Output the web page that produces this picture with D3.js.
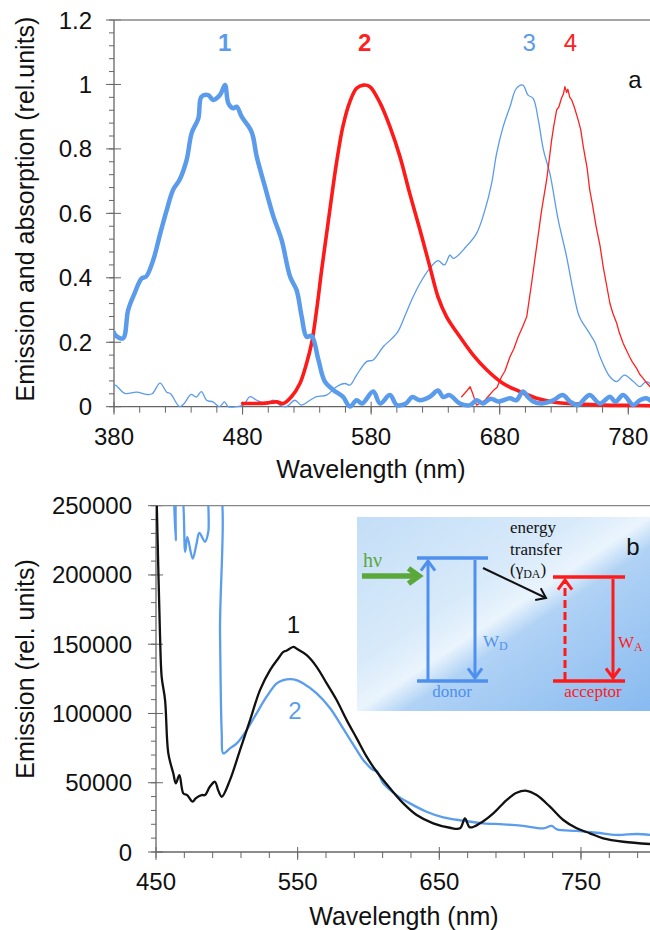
<!DOCTYPE html>
<html>
<head>
<meta charset="utf-8">
<script src="https://d3js.org/d3.v7.min.js"></script>
<style>
  body { margin: 0; background: #fff; }
  svg { display: block; }
</style>
</head>
<body>
<script>
// ---- panel a: wavelength (nm), relative units ----
const aXTicks = [380, 480, 580, 680, 780];
const aYTicks = [0, 0.2, 0.4, 0.6, 0.8, 1, 1.2];

// 1: donor emission (thick blue)
const aCurve1 = [[380,0.23],[381,0.222],[387,0.212],[391,0.30],[396,0.352],[401.5,0.398],[405,0.404],[410.5,0.455],[416,0.538],[421,0.61],[426,0.673],[431,0.704],[436.5,0.766],[440.4,0.849],[445.6,0.895],[448,0.962],[453.3,0.967],[457,0.952],[462.4,0.967],[466.3,0.998],[469,0.941],[472.8,0.926],[475.4,0.931],[479.3,0.90],[487,0.853],[491,0.776],[497.4,0.683],[504,0.59],[510.4,0.517],[517,0.403],[522,0.362],[526,0.279],[529.8,0.217],[533.7,0.22],[539,0.145],[544,0.078],[550.5,0.052],[558,0.031],[563.5,0.0],[568.7,0.02],[573,0.01],[581.6,0.047],[587,0.01],[594.6,0.036],[600,0.005],[607,0.01],[612,0.03],[618,0.02],[625.7,0.031],[632,0.05],[636,0.03],[641,0.036],[649,0.01],[657,0.005],[662,0.02],[667,0.01],[673,0.025],[679,0.016],[688,0.026],[693,0.02],[698,0.047],[702,0.03],[706,0.016],[713,0.01],[721.6,0.02],[729,0.036],[735,0.015],[741,0.005],[745,0.02],[750,0.036],[758,0.01],[765.7,0.031],[770,0.015],[776,0.036],[784,0.005],[789,0.02],[794,0.026],[800,0.01]];

// 2: acceptor absorption (thick red)
const aCurve2 = [[480,0.01],[490,0.01],[500,0.012],[506.5,0.015],[511.6,0.01],[518,0.031],[524.6,0.072],[529.8,0.135],[533.7,0.197],[537.6,0.30],[541.5,0.424],[545.4,0.538],[549.3,0.652],[553,0.755],[558,0.869],[563.5,0.947],[568.7,0.988],[574,0.998],[579,0.993],[587,0.942],[594.6,0.869],[602.4,0.776],[610,0.662],[618,0.548],[625.7,0.434],[632,0.341],[638.7,0.279],[649,0.217],[659.4,0.16],[670,0.114],[682.7,0.072],[695.7,0.047],[708.7,0.026],[725.5,0.012],[741,0.008],[761,0.005],[780,0.004],[800,0.003]];

// 3: thin blue
const aCurve3 = [[380,0.06],[381,0.067],[388.5,0.041],[397.6,0.045],[405.4,0.038],[409.7,0.04],[415.8,0.073],[421,0.045],[424,0.04],[431,0],[434.6,0.01],[440,0.038],[444,0.03],[448,0.047],[452,0.02],[457,0.015],[462,0],[466,0.015],[468.7,0],[475,0],[480.6,0.005],[485.8,0.031],[491,0.02],[498,0.01],[504,0.02],[509,0.005],[514,0],[520.7,0.02],[525.7,0.005],[532.4,0.02],[537.6,0.031],[545.4,0.036],[553,0.062],[559.6,0.072],[563.5,0.067],[568.7,0.098],[576.5,0.14],[581.6,0.145],[589.4,0.186],[600,0.228],[606,0.279],[611.5,0.331],[618,0.383],[625.7,0.43],[632,0.453],[637,0.44],[641.3,0.47],[644,0.46],[654,0.497],[662,0.538],[668.5,0.61],[673.7,0.693],[677.6,0.786],[682.7,0.869],[688,0.931],[693,0.988],[698,0.998],[702,0.967],[706,0.957],[710,0.89],[714,0.797],[719,0.724],[725.5,0.58],[732,0.466],[737,0.362],[742,0.279],[749,0.233],[754,0.2],[758,0.155],[765.7,0.093],[771,0.078],[777,0.098],[784,0.078],[789,0.062],[794,0.078],[800,0.06]];

// 4: thin red
const aCurve4 = [[650.4,0.031],[654,0.047],[657,0.062],[659.4,0.036],[662,0.005],[668.5,0.02],[675,0.05],[678,0.06],[681.4,0.093],[684,0.11],[688,0.155],[691,0.18],[694.4,0.217],[698,0.25],[701,0.279],[704.8,0.383],[708.7,0.497],[712.6,0.61],[716.5,0.704],[718,0.75],[720.4,0.828],[722,0.87],[724.3,0.921],[726,0.93],[728,0.957],[729.5,0.97],[730.7,0.993],[732,0.975],[733,0.985],[734.5,0.96],[736,0.952],[738,0.93],[741,0.89],[743,0.86],[745,0.807],[748,0.74],[750,0.673],[752,0.63],[755,0.559],[758,0.5],[760.5,0.434],[763,0.38],[765.7,0.321],[768,0.29],[771,0.259],[773,0.23],[776,0.197],[778,0.18],[781,0.155],[783,0.14],[786.5,0.119],[789,0.1],[791.6,0.088],[794,0.075],[797,0.062],[800,0.055]];

const aLabels = [
  { text: "1", nm: 466, v: 1.105, color: "#5b9bec", bold: true },
  { text: "2", nm: 575, v: 1.105, color: "#ff2020", bold: true },
  { text: "3", nm: 703, v: 1.105, color: "#5b9bec", bold: false },
  { text: "4", nm: 735, v: 1.105, color: "#ff2020", bold: false }
];

// ---- panel b: emission ----
const bXTicks = [450, 550, 650, 750];
const bYTicks = [0, 50000, 100000, 150000, 200000, 250000];

// 1 (black)
const bCurve1 = [[450.3,262000],[451.6,205800],[452.8,158000],[454,126500],[456.4,109700],[458.7,71200],[462.2,56800],[464,49600],[466.5,55500],[469.3,42300],[472,41000],[475.9,36300],[478,38700],[482.2,41100],[484.6,41100],[488,47100],[491.6,50700],[494,44300],[496.4,39900],[502.2,51900],[509.3,73600],[516.4,95200],[523.4,116900],[530.5,131300],[536.3,139700],[539.9,144500],[542,145300],[547,148100],[549.4,146700],[556.4,142100],[563.4,133700],[570.5,121700],[577.5,109700],[584.6,95200],[591.7,82000],[598.7,68800],[605.8,57900],[615.2,46000],[624.6,35100],[634,26700],[645.7,20700],[657.5,17500],[664.6,17100],[668.1,24300],[671.6,17800],[678.7,20700],[688.1,27900],[697.5,37500],[704.6,42800],[711.7,44200],[718.7,41100],[728.1,32700],[737.5,23100],[747,17100],[756.3,13500],[765.7,9900],[779.9,7400],[800,5700]];

// 2 (blue)
const bCurve2 = [[462.5,265000],[463.9,225000],[465.3,265000],[467.5,265000],[470.6,216700],[472.1,227500],[475.9,211900],[478.5,222000],[480.6,230300],[484.6,223900],[486.9,231100],[488.6,265000],[494,265000],[495.2,158000],[496.4,85900],[497.5,71200],[502.2,74800],[507,78400],[514,88000],[521,100100],[528.1,112100],[535.2,121700],[539.9,124100],[547,124600],[554,121700],[563.4,114500],[572.8,104000],[582.2,89000],[591.7,73600],[596.3,66400],[603.4,59200],[605.8,58500],[610.4,49600],[619.8,41100],[629.3,35100],[641,29100],[652.8,25000],[666.9,22600],[681,20700],[695.2,20000],[709.3,18800],[723.4,17100],[729.3,18800],[733,16300],[747,15200],[761,13900],[775.2,12300],[789.3,13000],[800,12300]];

const bLabels = [
  { text: "1", nm: 547, v: 158000, color: "#111" },
  { text: "2", nm: 548, v: 96000, color: "#5a9ded" }
];

const W = 650, H = 930;
const FONT = "'Liberation Sans', Arial, Helvetica, sans-serif";
const SERIF = "'Liberation Serif', 'Times New Roman', serif";

const svg = d3.select("body").append("svg")
  .attr("width", W).attr("height", H)
  .attr("font-family", FONT);

function drawPanel(p) {
  const x = d3.scaleLinear().domain(p.xDomain).range(p.xRange);
  const y = d3.scaleLinear().domain(p.yDomain).range(p.yRange);
  const g = svg.append("g");
  const x0 = p.xRange[0], y0 = p.yRange[0], yTop = p.yRange[1];
  const axisColor = "#666";

  // clip
  const clipId = "clip-" + p.id;
  svg.append("clipPath").attr("id", clipId).append("rect")
    .attr("x", x0).attr("y", yTop).attr("width", W - x0).attr("height", y0 - yTop + 2);

  // minor ticks
  const [ymin, ymax] = p.yDomain;
  d3.range(ymin, ymax + p.yMinor / 2, p.yMinor).forEach(v => {
    g.append("line").attr("x1", x0 - 5).attr("x2", x0)
      .attr("y1", y(v)).attr("y2", y(v)).attr("stroke", axisColor).attr("stroke-width", 1);
  });
  d3.range(p.xDomain[0], p.xDomain[1], p.xMinor).forEach(v => {
    g.append("line").attr("x1", x(v)).attr("x2", x(v))
      .attr("y1", y0).attr("y2", y0 + 6).attr("stroke", axisColor).attr("stroke-width", 1);
  });
  // major ticks + labels
  p.yTicks.forEach(v => {
    g.append("line").attr("x1", x0 - 8).attr("x2", x0 + 7)
      .attr("y1", y(v)).attr("y2", y(v)).attr("stroke", axisColor).attr("stroke-width", 1);
    g.append("text").attr("x", p.yLabelX).attr("y", y(v) + 8.5)
      .attr("text-anchor", "end").attr("font-size", 24).attr("fill", "#111")
      .text(p.yFmt(v));
  });
  p.xTicks.forEach(v => {
    g.append("line").attr("x1", x(v)).attr("x2", x(v))
      .attr("y1", y0 - 5).attr("y2", y0 + 8).attr("stroke", axisColor).attr("stroke-width", 1);
    g.append("text").attr("x", x(v)).attr("y", p.xLabelY)
      .attr("text-anchor", "middle").attr("font-size", 24).attr("fill", "#111")
      .text(v);
  });

  // axis lines
  g.append("line").attr("x1", x0).attr("x2", x0).attr("y1", yTop).attr("y2", y0)
    .attr("stroke", axisColor).attr("stroke-width", 1.3);
  g.append("line").attr("x1", x0).attr("x2", W).attr("y1", y0).attr("y2", y0)
    .attr("stroke", axisColor).attr("stroke-width", 1.3);
  g.append("line").attr("x1", x0).attr("x2", W).attr("y1", yTop).attr("y2", yTop)
    .attr("stroke", "#888").attr("stroke-width", 1.3);

  // titles
  g.append("text").attr("x", p.xTitleX).attr("y", p.xTitleY)
    .attr("text-anchor", "middle").attr("font-size", 25).attr("fill", "#111")
    .text("Wavelength (nm)");
  g.append("text")
    .attr("transform", `translate(${p.yTitleX},${p.yTitleY}) rotate(-90)`)
    .attr("text-anchor", "middle").attr("font-size", 25).attr("fill", "#111")
    .text(p.yTitle);

  // series
  const lines = g.append("g").attr("clip-path", `url(#${clipId})`);
  p.series.forEach(s => {
    const line = d3.line().x(d => x(d[0])).y(d => y(d[1]))
      .curve(s.smooth ? d3.curveCatmullRom.alpha(0.5) : d3.curveLinear);
    lines.append("path").datum(s.data)
      .attr("fill", "none").attr("stroke", s.color).attr("stroke-width", s.width)
      .attr("stroke-linejoin", "round").attr("stroke-linecap", "round")
      .attr("d", line);
  });

  // curve labels
  p.labels.forEach(l => {
    g.append("text").attr("x", x(l.nm)).attr("y", y(l.v))
      .attr("text-anchor", "middle").attr("font-size", 24)
      .attr("font-weight", l.bold ? "bold" : "normal")
      .attr("fill", l.color).text(l.text);
  });
  return { x, y, g };
}

const pa = drawPanel({
  id: "a",
  xDomain: [380, 800], xRange: [114, 654],
  yDomain: [0, 1.2], yRange: [406.7, 20],
  xTicks: aXTicks, yTicks: aYTicks, xMinor: 20, yMinor: 0.04,
  yFmt: d3.format("~g"), yLabelX: 92, xLabelY: 445,
  xTitleX: 371, xTitleY: 478,
  yTitle: "Emission and absorption (rel.units)", yTitleX: 34, yTitleY: 209,
  series: [
    { data: aCurve3, color: "#5b9bec", width: 1.3, smooth: true },
    { data: aCurve4, color: "#ff2020", width: 1.3, smooth: false },
    { data: aCurve2, color: "#ff1a1a", width: 3.6, smooth: true },
    { data: aCurve1, color: "#5b9bec", width: 4.5, smooth: true }
  ],
  labels: aLabels
});
pa.g.append("text").attr("x", 635).attr("y", 88).attr("text-anchor", "middle")
  .attr("font-size", 24).attr("fill", "#111").text("a");

const pb = drawPanel({
  id: "b",
  xDomain: [450, 800], xRange: [156, 651.8],
  yDomain: [0, 250000], yRange: [852, 505.7],
  xTicks: bXTicks, yTicks: bYTicks, xMinor: 20, yMinor: 10000,
  yFmt: d3.format("d"), yLabelX: 132, xLabelY: 890,
  xTitleX: 404, xTitleY: 925,
  yTitle: "Emission (rel. units)", yTitleX: 34, yTitleY: 669,
  series: [
    { data: bCurve2, color: "#5a9ded", width: 2.3, smooth: true },
    { data: bCurve1, color: "#111", width: 2.3, smooth: true }
  ],
  labels: bLabels
});

// ---- inset energy diagram (panel b) ----
const inset = svg.append("g");
const defs = svg.append("defs");
const grad = defs.append("linearGradient").attr("id", "insetBg")
  .attr("x1", 0).attr("y1", 0).attr("x2", 1).attr("y2", 1);
[[0, "#c3def7"], [0.38, "#d8eafa"], [0.5, "#eaf4fd"], [0.58, "#b0d2f5"], [1, "#88baf0"]]
  .forEach(([o, c]) => grad.append("stop").attr("offset", o).attr("stop-color", c));
inset.append("rect").attr("x", 357).attr("y", 517).attr("width", 293).attr("height", 194)
  .attr("fill", "url(#insetBg)");

function chevron(x1, y1, x2, y2, color, width, len, dash) {
  inset.append("line").attr("x1", x1).attr("y1", y1).attr("x2", x2).attr("y2", y2)
    .attr("stroke", color).attr("stroke-width", width)
    .attr("stroke-dasharray", dash || null);
  const a = Math.atan2(y2 - y1, x2 - x1);
  const s = Math.PI * 0.8;
  const p1 = [x2 + len * Math.cos(a + s), y2 + len * Math.sin(a + s)];
  const p2 = [x2 + len * Math.cos(a - s), y2 + len * Math.sin(a - s)];
  inset.append("path").attr("d", `M${p1}L${x2},${y2}L${p2}`)
    .attr("fill", "none").attr("stroke", color).attr("stroke-width", width)
    .attr("stroke-linejoin", "miter");
}

const donorC = "#4f90ee", accC = "#ff1a1a";
// levels
[[417, 488, 558, donorC], [417, 488, 681, donorC], [553, 625, 577, accC], [553, 625, 681, accC]]
  .forEach(([xa, xb, yy, c]) => inset.append("line").attr("x1", xa).attr("x2", xb)
    .attr("y1", yy).attr("y2", yy).attr("stroke", c).attr("stroke-width", 3.5));

chevron(428, 680, 428, 561, donorC, 3, 12);
chevron(475, 560, 475, 678, donorC, 3, 12);
chevron(565, 680, 565, 580, accC, 3, 12, "8,4");
chevron(613, 579, 613, 678, accC, 3, 12);
chevron(362, 576, 419, 576, "#5aa83a", 5.5, 13);
chevron(483, 568, 546, 598, "#111", 2, 11);

const serifText = (x, y, txt, size, color, anchor) => inset.append("text")
  .attr("x", x).attr("y", y).attr("font-family", SERIF).attr("font-size", size)
  .attr("fill", color).attr("text-anchor", anchor || "start").text(txt);

serifText(510, 533, "energy", 17, "#111");
serifText(510, 555, "transfer", 17, "#111");
const gam = serifText(510, 575, "(\u03b3", 17, "#111");
gam.append("tspan").attr("font-size", 12).attr("dy", 3).text("DA");
gam.append("tspan").attr("dy", -3).text(")");
serifText(363, 567, "h\u03bd", 20, "#5aa83a");
const wd = serifText(483, 647, "W", 17, donorC);
wd.append("tspan").attr("font-size", 12).attr("dy", 3).text("D");
const wa = serifText(618, 648, "W", 17, accC);
wa.append("tspan").attr("font-size", 12).attr("dy", 3).text("A");
serifText(452, 697, "donor", 17, donorC, "middle");
serifText(593, 697, "acceptor", 17, accC, "middle");
inset.append("text").attr("x", 633).attr("y", 555).attr("text-anchor", "middle")
  .attr("font-size", 24).attr("fill", "#111").text("b");
</script>
</body>
</html>
